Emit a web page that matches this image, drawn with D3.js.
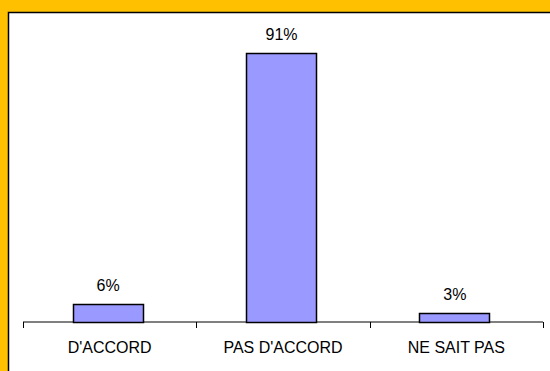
<!DOCTYPE html>
<html><head><meta charset="utf-8">
<script src="https://cdn.jsdelivr.net/npm/d3@7"></script>
<style>html,body{margin:0;padding:0;background:#FFC000;overflow:hidden}</style>
</head><body>
<script>
const categories = ["D'ACCORD", "PAS D'ACCORD", "NE SAIT PAS"];
const values = [6, 91, 3];
const valueLabels = ["6%", "91%", "3%"];

const W = 550, H = 371;
const svg = d3.select("body").append("svg").attr("width", W).attr("height", H);
svg.append("rect").attr("width", W).attr("height", H).attr("fill", "#FFC000");
svg.append("rect").attr("x", 8.5).attr("y", 12.5).attr("width", W + 20).attr("height", H + 20)
  .attr("fill", "#fff").attr("stroke", "#000").attr("stroke-width", 1.5);

const x = d3.scaleBand().domain(categories).range([23, 543]).paddingInner(0).paddingOuter(0);
const y = d3.scaleLinear().domain([0, 100]).range([322, 26.4]);
const barW = 70;

const font = "'Liberation Sans', Arial, sans-serif";

// axis
const ax = svg.append("g").attr("transform", "translate(0,322)");
ax.append("line").attr("x1", 23).attr("x2", 543).attr("stroke", "#000").attr("stroke-width", 1);
const tickPos = categories.map(c => x(c)).concat([x.range()[1]]);
ax.selectAll("line.t").data(tickPos).join("line").attr("class", "t")
  .attr("x1", d => Math.round(d) + 0.5).attr("x2", d => Math.round(d) + 0.5)
  .attr("y1", 0).attr("y2", 6).attr("stroke", "#000");

// bars
svg.selectAll("rect.bar").data(values).join("rect").attr("class", "bar")
  .attr("x", (d, i) => Math.round(x(categories[i]) + x.bandwidth() / 2 - barW / 2) - 1.5)
  .attr("y", d => Math.round(y(d)) + 0.5)
  .attr("width", barW)
  .attr("height", d => Math.round(y(0)) - Math.round(y(d)))
  .attr("fill", "#9999FF").attr("stroke", "#000").attr("stroke-width", 1.5);

// value labels
svg.selectAll("text.v").data(values).join("text").attr("class", "v")
  .attr("x", (d, i) => x(categories[i]) + x.bandwidth() / 2 - 1.5)
  .attr("y", d => y(d) - 13)
  .attr("text-anchor", "middle")
  .style("font-family", font).style("font-size", "16px").attr("fill", "#000")
  .text((d, i) => valueLabels[i]);

// category labels
svg.selectAll("text.c").data(categories).join("text").attr("class", "c")
  .attr("x", d => x(d) + x.bandwidth() / 2)
  .attr("y", 353)
  .attr("text-anchor", "middle")
  .style("font-family", font).style("font-size", "16px").attr("fill", "#000")
  .text(d => d);
</script>
</body></html>
